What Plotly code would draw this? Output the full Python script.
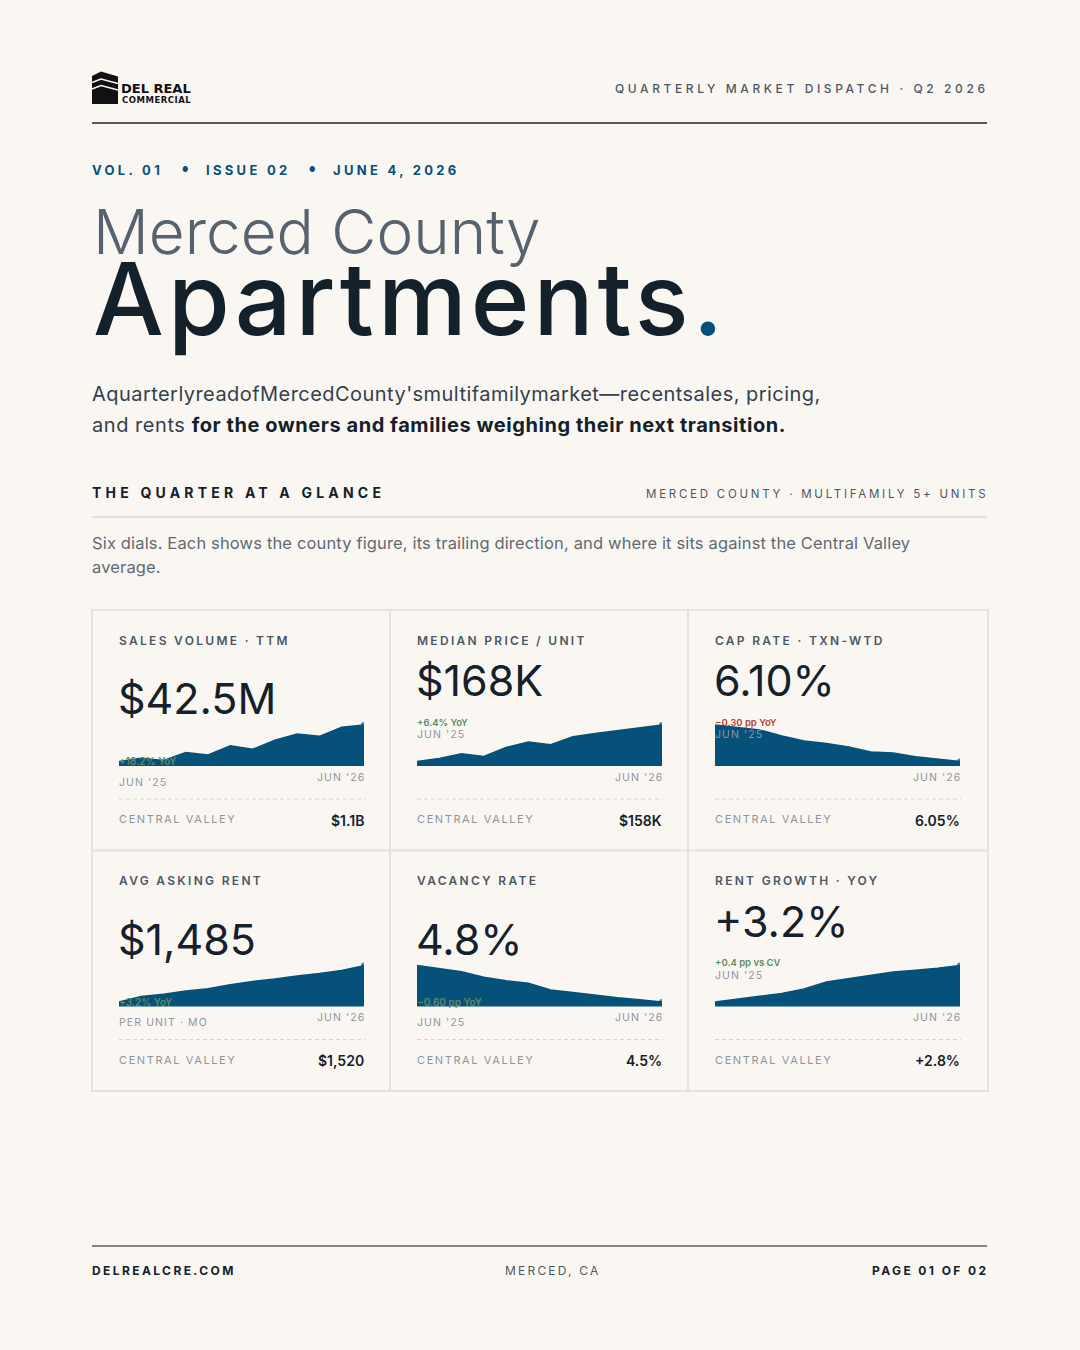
import plotly.graph_objects as go

# ---- data -------------------------------------------------------------
LABELS = ["SALES VOLUME · TTM", "MEDIAN PRICE / UNIT", "CAP RATE · TXN-WTD",
          "AVG ASKING RENT", "VACANCY RATE", "RENT GROWTH · YOY"]
HEADLINES = ["$42.5M", "$168K", "6.10%", "$1,485", "4.8%", "+3.2%"]
DELTAS = ["+18.2% YoY", "+6.4% YoY", "−0.30 pp YoY", "+3.2% YoY", "−0.60 pp YoY", "+0.4 pp vs CV"]
DELTA_GOOD = [True, True, False, True, True, True]
START_LABELS = ["JUN '25", "JUN '25", "JUN '25", "PER UNIT · MO", "JUN '25", "JUN '25"]
END_LABEL = "JUN '26"
CV_VALUES = ["$1.1B", "$158K", "6.05%", "$1,520", "4.5%", "+2.8%"]
# trailing twelve monthly readings per dial
SALES_VOL = [36.0, 36.6, 36.2, 37.6, 37.2, 38.8, 38.2, 39.8, 40.9, 40.5, 42.1, 42.5]        # $M
PRICE_UNIT = [157.9, 158.8, 160.1, 159.3, 161.8, 163.3, 162.6, 164.8, 165.7, 166.5, 167.3, 168.0]  # $K
CAP_RATE = [6.40, 6.38, 6.36, 6.31, 6.27, 6.25, 6.22, 6.18, 6.17, 6.14, 6.12, 6.10]       # %
ASK_RENT = [1439, 1446, 1449, 1453, 1456, 1461, 1465, 1468, 1472, 1475, 1479, 1485]     # $/mo
VACANCY = [5.40, 5.35, 5.30, 5.21, 5.15, 5.11, 5.00, 4.96, 4.91, 4.87, 4.84, 4.80]        # %
RENT_GROWTH = [2.40, 2.47, 2.53, 2.59, 2.69, 2.84, 2.91, 2.99, 3.06, 3.10, 3.14, 3.20]    # %
SERIES = [SALES_VOL, PRICE_UNIT, CAP_RATE, ASK_RENT, VACANCY, RENT_GROWTH]
# cards whose headline sits low with the delta tucked into the chart
LOW_STYLE = [True, False, False, True, True, False]

W, H = 1080, 1350
BG = "#FAF7F3"
INK = "#14212B"
NAVY = "#05517A"
SLATE = "#4B5763"
MUTED = "#8E969D"
RULE = "#E2E2E2"
GREEN = "#5E8A62"
RED = "#C23B2E"
FONT = "Inter, 'Noto Sans', sans-serif"


def track(s, ls):
    # letter-spacing in px
    return f"<span style='letter-spacing:{ls}px'>{s}</span>"


def px(x):
    return x / W


def py(y):
    return 1 - y / H


fig = go.Figure()
annotations = []
shapes = []


def text(x, y, s, size, color, weight=400, anchor="left", family=FONT):
    annotations.append(dict(
        x=px(x), y=py(y), xref="paper", yref="paper", text=s, showarrow=False,
        xanchor=anchor, yanchor="middle", align=anchor, borderpad=0,
        font=dict(family=family, size=size, color=color, weight=weight)))


def hline(x0, x1, y, color, width=1, dash="solid"):
    shapes.append(dict(type="line", xref="paper", yref="paper",
                       x0=px(x0), x1=px(x1), y0=py(y), y1=py(y),
                       line=dict(color=color, width=width, dash=dash)))


def vline(x, y0, y1, color, width=1):
    shapes.append(dict(type="line", xref="paper", yref="paper",
                       x0=px(x), x1=px(x), y0=py(y0), y1=py(y1),
                       line=dict(color=color, width=width)))


# ---- masthead ---------------------------------------------------------
shapes.append(dict(type="path", xref="paper", yref="paper", fillcolor="#111111", line=dict(width=0),
                   path=f"M {px(92)},{py(76)} L {px(101)},{py(71.5)} L {px(118)},{py(76.5)} "
                        f"L {px(118)},{py(104)} L {px(92)},{py(104)} Z"))
for yy in (81.5, 88):
    shapes.append(dict(type="path", xref="paper", yref="paper", line=dict(color=BG, width=1.6),
                       path=f"M {px(92)},{py(yy + 1)} L {px(101)},{py(yy - 2.5)} L {px(118)},{py(yy + 2)}"))
text(120, 88, "DEL REAL", 13, "#111111", 900, family="'DejaVu Sans', sans-serif")
text(121, 100, track("COMMERCIAL", 0.5), 8.5, "#111111", 900, family="'DejaVu Sans', sans-serif")
text(990, 88, track("QUARTERLY MARKET DISPATCH · Q2 2026", 3.6), 12, SLATE, 500, "right")
hline(92, 987, 123, "#1C2630", 1.5)

text(91, 170, track("VOL. 01", 3.3), 13, NAVY, 700)
text(185, 170, "●", 7, NAVY, anchor="center")
text(205, 170, track("ISSUE 02", 3.3), 13, NAVY, 700)
text(312, 170, "●", 7, NAVY, anchor="center")
text(332, 170, track("JUNE 4, 2026", 3.3), 13, NAVY, 700)

# two-line title in one block so the lines share a baseline grid
text(92, 276,
     "Merced County<br>"
     f"<span style='font-size:100px;font-weight:500;color:{INK};letter-spacing:4px'>Apartments</span>"
     f"<span style='font-size:100px;font-weight:500;color:{NAVY}'>.</span>",
     62, "#56626D", 300)

text(91, 394, track("AquarterlyreadofMercedCounty'smultifamilymarket—recentsales, pricing,", 0.45),
     20, "#34404B", 400)
text(91, 425, track(f"and rents <b><span style='color:{INK}'>for the owners and families weighing their next transition.</span></b>", 0.55),
     20, "#34404B", 400)

text(91, 492, track("THE QUARTER AT A GLANCE", 4.2), 14, INK, 700)
text(989, 494, track("MERCED COUNTY · MULTIFAMILY 5+ UNITS", 2.75), 11.5, SLATE, 400, "right")
hline(92, 987, 517, "#DADADA", 1.5)
text(91, 543, track("Six dials. Each shows the county figure, its trailing direction, and where it sits against the Central Valley", 0.15),
     16.5, "#5F6A73", 400)
text(91, 567, track("average.", 0.15), 16.5, "#5F6A73", 400)

# ---- card grid --------------------------------------------------------
CARD_X = [92, 390, 688, 988]
CARD_Y = [610, 850.5, 1091]
shapes.append(dict(type="rect", xref="paper", yref="paper", x0=px(92), x1=px(988),
                   y0=py(1091), y1=py(610), line=dict(color=RULE, width=2)))
for cx in CARD_X[1:3]:
    vline(cx, 610, 1091, RULE, 2)
hline(92, 988, 850.5, RULE, 2)

layout_axes = {}
for i, vals in enumerate(SERIES):
    r, c = divmod(i, 3)
    top = CARD_Y[r]
    left = CARD_X[c] + 27
    right = CARD_X[c] + 273
    low = LOW_STYLE[i]

    text(left - 1, top + 30, track(LABELS[i], 2.3), 12, SLATE, 600)
    text(left - 2, top + (88 if low else 70), HEADLINES[i], 43, INK, 400)

    delta_col = GREEN if DELTA_GOOD[i] else RED
    if low:
        text(left - 1, top + 151, DELTAS[i], 10, delta_col, 600)
        text(left - 1, top + 172, track(START_LABELS[i], 1.1), 10.5, MUTED, 400)
    else:
        text(left - 1, top + 112, DELTAS[i], 9.5, delta_col, 600)
        text(left - 1, top + 125, track(START_LABELS[i], 1.1), 10.5, MUTED, 400)
    text(right + 1, top + 167, track(END_LABEL, 1.1), 10.5, MUTED, 400, "right")

    hline(left, right, top + 189, "#D2D2D2", 1, "4px,3px")
    text(left - 1, top + 209, track("CENTRAL VALLEY", 1.6), 11, MUTED, 400)
    text(right, top + 210, CV_VALUES[i], 14, INK, 600, "right")

    # sparkline
    n = i + 1
    xa = "x" if n == 1 else f"x{n}"
    ya = "y" if n == 1 else f"y{n}"
    lo, hi = min(vals), max(vals)
    span = hi - lo
    fig.add_trace(go.Scatter(
        x=list(range(len(vals))), y=vals, xaxis=xa, yaxis=ya,
        mode="lines+markers", fill="tozeroy", fillcolor=NAVY,
        line=dict(color=NAVY, width=1.5),
        marker=dict(color=NAVY, size=[0] * (len(vals) - 1) + [6], line=dict(width=0)),
        hoverinfo="skip", showlegend=False))
    key = "" if n == 1 else str(n)
    layout_axes[f"xaxis{key}"] = dict(domain=[px(left), px(right - 1)], range=[0, len(vals) - 1],
                                      visible=False, fixedrange=True)
    layout_axes[f"yaxis{key}"] = dict(domain=[py(top + 156), py(top + 110)],
                                      range=[lo - 0.12 * span, hi + 0.14 * span],
                                      visible=False, fixedrange=True)

# ---- footer -----------------------------------------------------------
hline(92, 987, 1246, "#5A6068", 1.5)
text(91, 1270, track("DELREALCRE.COM", 2.4), 12, INK, 700)
text(553, 1270, track("MERCED, CA", 2.2), 12, SLATE, 400, "center")
text(989, 1270, track("PAGE 01 OF 02", 2.4), 12, INK, 700, "right")

fig.update_layout(
    width=W, height=H, margin=dict(l=0, r=0, t=0, b=0),
    paper_bgcolor=BG, plot_bgcolor="rgba(0,0,0,0)",
    annotations=annotations, shapes=shapes, showlegend=False,
    **layout_axes)

fig.write_html("out.html", config={"displayModeBar": False},
               post_script="document.body.style.margin='0';document.body.style.background='#FAF7F3';")
